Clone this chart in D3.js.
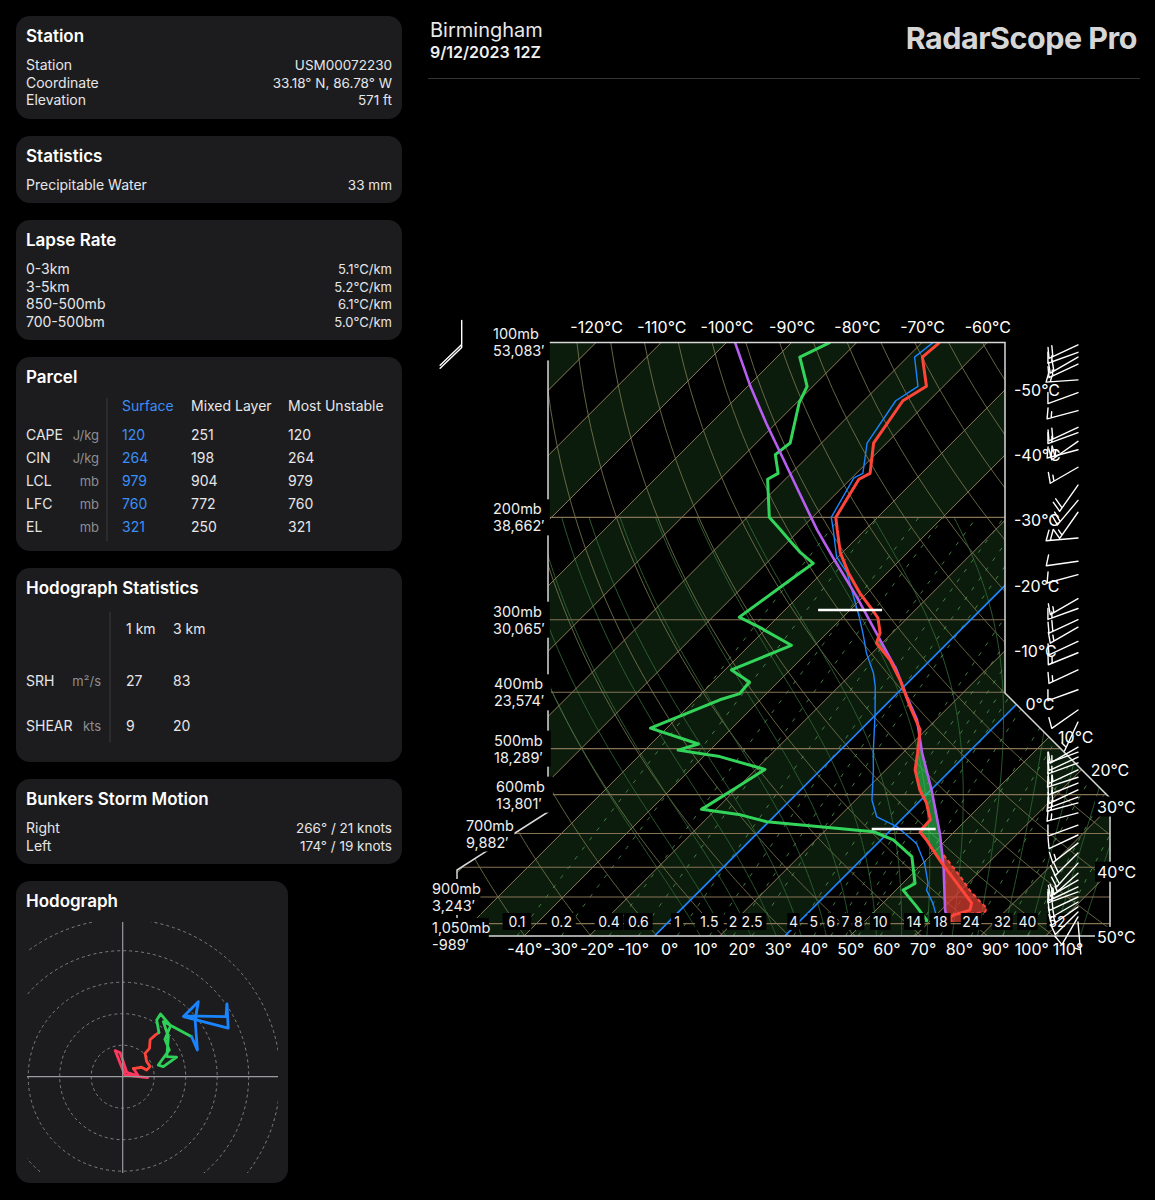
<!DOCTYPE html>
<html><head><meta charset="utf-8">
<script src="https://cdn.jsdelivr.net/npm/d3@7"></script>
<style>
body{margin:0;background:#000;}
svg{display:block;font-family:Inter,"Noto Sans",sans-serif;}
</style></head><body>
<svg id="c" width="1155" height="1200"></svg>
<script>
// ================= DATA =================
const temperature=[[100,-67.3],[106,-67.7],[119,-62.6],[126,-64.0],[149,-62.0],[168,-57.9],[172,-58.7],[200,-56.4],[210,-54.3],[230,-50.3],[249,-46.0],[270,-41.1],[289,-36.5],[298,-34.5],[316,-31.9],[329,-30.9],[352,-26.2],[381,-21.6],[424,-15.9],[464,-10.9],[509,-7.7],[544,-5.5],[589,-1.7],[620,1.3],[663,4.5],[685,4.6],[696,4.8],[718,7.0],[747,9.5],[787,12.9],[851,18.2],[922,23.6],[948,24.4],[967,22.6],[978,22.6],[994,23.4]];
const dewpoint=[[100,-84.1],[106,-86.5],[119,-80.9],[127,-79.6],[149,-74.8],[156,-75.3],[168,-72.0],[172,-72.7],[200,-66.6],[210,-63.0],[219,-60.0],[230,-56.4],[240,-52.8],[249,-53.4],[297,-55.9],[309,-51.3],[332,-43.6],[366,-49.0],[384,-44.4],[402,-44.1],[412,-46.2],[461,-52.5],[491,-42.7],[503,-44.9],[516,-37.5],[543,-28.6],[578,-30.0],[636,-32.2],[650,-25.4],[668,-20.3],[695,-2.4],[718,1.9],[767,7.3],[853,11.9],[876,11.1],[935,15.7],[986,19.3],[994,19.5]];
const wetbulb=[[100,-68.3],[106,-68.9],[119,-63.9],[126,-65.1],[149,-63.0],[168,-59.0],[171,-59.7],[200,-57.1],[210,-54.9],[234,-50.2],[249,-46.2],[297,-37.5],[317,-34.4],[343,-30.8],[371,-26.7],[391,-24.4],[435,-20.3],[509,-14.5],[544,-11.9],[613,-7.5],[655,-4.2],[681,0.4],[728,6.0],[788,10.3],[853,13.9],[876,14.7],[923,17.7],[973,20.3],[994,20.6]];
const parcel=[[100,-98.7],[119,-89.6],[138,-81.4],[159,-73.3],[182,-65.6],[210,-57.4],[234,-50.8],[274,-41.0],[317,-32.3],[366,-23.7],[407,-18.0],[446,-12.9],[509,-7.0],[589,0.1],[699,8.0],[798,13.7],[948,20.6],[994,22.9]];
const virtualTemp=[[762,11.9],[830,17.8],[876,21.3],[917,24.7],[941,26.7],[954,27.0],[962,25.2],[978,25.1],[994,26.0]];
const levelMarks=[[288.7,-40.0],[687.3,1.8]];
const highlightIsotherms=[0,-20];
const mixingRatios=[0.1,0.2,0.4,0.6,1,1.5,2,2.5,4,5,6,7,8,10,14,18,24,32,40,52];
const isobars=[200,300,400,500,600,700,800,900,1000];
const pressureLabels=[[100,"53,083′"],[200,"38,662′"],[300,"30,065′"],[400,"23,574′"],[500,"18,289′"],[600,"13,801′"],[700,"9,882′"],[900,"3,243′"],[1050,"-989′"]];
const topTicksC=[-120,-110,-100,-90,-80,-70,-60];
const bottomTicksF=[-40,-30,-20,-10,0,10,20,30,40,50,60,70,80,90,100,110];
const rightTicksC=[-50,-40,-30,-20,-10,0,10,20,30,40,50];
const windP=[101,104,106,109,116,122,131,140,143,148,153,164,176,187,196,217,238,251,276,287,300,309,327,342,366,396,429,450,497,507,517,529,544,560,573,589,606,620,645,677,704,727,756,787,819,842,865,882,900,918,936,955,974,994];
const windDir=[245,250,240,245,266,250,255,245,250,235,255,240,215,220,215,265,262,255,240,250,245,240,245,248,245,250,235,205,240,250,245,250,245,252,248,245,250,255,255,250,245,232,225,222,228,240,245,250,245,240,235,225,210,175];
const windSpd=[20,15,20,15,15,10,15,20,15,20,25,15,20,20,15,20,10,10,15,15,20,15,10,15,15,10,10,5,10,15,10,15,15,20,15,20,15,15,15,10,10,15,20,20,15,15,20,20,15,15,15,10,10,5];
const topWind=[100,180,20];
const hodoPink=[[7.9,-0.3],[0.7,0.5],[-2.4,8.3],[-0.8,7.6],[1.3,1.4],[5.0,0.2],[3.4,2.6]];
const hodoRed=[[3.4,2.6],[6.0,3.0],[7.6,2.1],[8.7,3.2],[7.6,4.8],[7.1,7.4],[8.5,9.0],[8.7,11.7],[10.3,13.2],[11.5,14.0]];
const hodoGreen=[[11.5,14.0],[10.8,18.0],[12.0,19.9],[15.2,16.2],[13.4,11.9],[14.8,8.5],[11.3,3.7],[12.9,3.2],[17.1,6.2],[14.0,6.4],[14.5,12.7],[12.9,17.5],[21.9,12.7]];
const hodoBlue=[[21.9,12.7],[23.7,8.5],[23.0,18.0],[24.0,23.8],[19.3,19.1],[33.5,15.4],[33.1,23.1],[32.8,19.1],[19.6,19.3]];
const hodoRings=[10,20,30,40,50];
const stationRows=[["Station","USM00072230"],["Coordinate","33.18° N, 86.78° W"],["Elevation","571 ft"]];
const statsRows=[["Precipitable Water","33 mm"]];
const lapseRows=[["0-3km","5.1°C/km"],["3-5km","5.2°C/km"],["850-500mb","6.1°C/km"],["700-500bm","5.0°C/km"]];
const parcelCols=["Surface","Mixed Layer","Most Unstable"];
const parcelRows=[["CAPE","J/kg",120,251,120],["CIN","J/kg",264,198,264],["LCL","mb",979,904,979],["LFC","mb",760,772,760],["EL","mb",321,250,321]];
const hodoStatCols=["1 km","3 km"];
const hodoStatRows=[["SRH","m²/s",27,83],["SHEAR","kts",9,20]];
const bunkersRows=[["Right","266° / 21 knots"],["Left","174° / 19 knots"]];

// ================= SETUP =================
const svg=d3.select('#c');
svg.append('rect').attr('width',1155).attr('height',1200).attr('fill','#000');
const TXT='#e6e6e8', GRAY='#8e8e93', BLUE='#3b8ef5';

// ---------- left panels ----------
function panel(x,y,w,h,title){
  svg.append('rect').attr('x',x).attr('y',y).attr('width',w).attr('height',h).attr('rx',14).attr('fill','#1c1c1e');
  svg.append('text').attr('x',x+10).attr('y',y+26).attr('fill','#fff').style('font-size','17px').style('font-weight',600).text(title);
}
function t(x,y,s,o={}){
  return svg.append('text').attr('x',x).attr('y',y).attr('fill',o.fill||TXT).attr('text-anchor',o.anchor||'start')
    .style('font-size',(o.size||14)+'px').style('font-weight',o.weight||400).text(s);
}
panel(16,16,386,103,'Station');
stationRows.forEach((r,i)=>{t(26,70+i*17.5,r[0]);t(392,70+i*17.5,r[1],{anchor:'end',size:13.5});});
panel(16,136,386,67,'Statistics');
statsRows.forEach((r,i)=>{t(26,190,r[0]);t(392,190,r[1],{anchor:'end',size:13.5});});
panel(16,220,386,120,'Lapse Rate');
lapseRows.forEach((r,i)=>{t(26,274+i*17.7,r[0]);t(392,274+i*17.7,r[1],{anchor:'end',size:13});});
panel(16,357,386,194,'Parcel');
svg.append('line').attr('x1',107).attr('x2',107).attr('y1',398).attr('y2',541).attr('stroke','#3a3a3c');
const pcx=[122,191,288];
parcelCols.forEach((c,i)=>t(pcx[i],411,c,{fill:i===0?BLUE:TXT}));
parcelRows.forEach((r,i)=>{const y=440+i*23;t(26,y,r[0]);t(99,y,r[1],{anchor:'end',fill:GRAY,size:13});
  [r[2],r[3],r[4]].forEach((v,j)=>t(pcx[j],y,v,{fill:j===0?BLUE:TXT}));});
panel(16,568,386,194,'Hodograph Statistics');
svg.append('line').attr('x1',110).attr('x2',110).attr('y1',612).attr('y2',742).attr('stroke','#3a3a3c');
const hcx=[126,173];
hodoStatCols.forEach((c,i)=>t(hcx[i],634,c));
hodoStatRows.forEach((r,i)=>{const y=686+i*45;t(26,y,r[0]);t(101,y,r[1],{anchor:'end',fill:GRAY,size:13});
  [r[2],r[3]].forEach((v,j)=>t(hcx[j],y,v));});
panel(16,779,386,85,'Bunkers Storm Motion');
bunkersRows.forEach((r,i)=>{t(26,833+i*18,r[0]);t(392,833+i*18,r[1],{anchor:'end',size:13.5});});
panel(16,881,272,302,'Hodograph');

// ---------- hodograph ----------
const hc=[122.7,1076.7], hk=3.15;
const hx=d3.scaleLinear().domain([0,10]).range([hc[0],hc[0]+10*hk]);
const hy=d3.scaleLinear().domain([0,10]).range([hc[1],hc[1]-10*hk]);
const defs=svg.append('defs');
defs.append('clipPath').attr('id','hodoClip').append('rect').attr('x',27).attr('y',922).attr('width',251).attr('height',251);
const gH=svg.append('g').attr('clip-path','url(#hodoClip)');
gH.selectAll('circle.ring').data(hodoRings).join('circle').attr('cx',hx(0)).attr('cy',hy(0)).attr('r',d=>hx(d)-hx(0))
  .attr('fill','none').attr('stroke','#7f7f82').attr('stroke-width',1).attr('stroke-dasharray','3,3');
svg.append('line').attr('x1',hx(0)).attr('x2',hx(0)).attr('y1',922).attr('y2',1173).attr('stroke','#9a9a9e').attr('stroke-width',1.2);
svg.append('line').attr('x1',27).attr('x2',278).attr('y1',hy(0)).attr('y2',hy(0)).attr('stroke','#9a9a9e').attr('stroke-width',1.2);
const hLine=d3.line().x(d=>hx(d[0])).y(d=>hy(d[1]));
[[hodoPink,'#ff375f'],[hodoRed,'#ff453a'],[hodoGreen,'#30d158'],[hodoBlue,'#1a84ff']].forEach(([d,c])=>{
  gH.append('path').attr('d',hLine(d)).attr('fill','none').attr('stroke',c).attr('stroke-width',2.8).attr('stroke-linejoin','round').attr('stroke-linecap','round');
});

// ---------- header ----------
t(430,37,'Birmingham',{size:20,fill:'#e8e8e8'});
t(430,58,'9/12/2023 12Z',{size:16,weight:600,fill:'#f0f0f0'});
svg.append('text').attr('x',1137).attr('y',49).attr('text-anchor','end').attr('fill','#d6d6d6')
  .style('font-size','30.5px').style('font-weight',700).style('letter-spacing','-0.5px').text('RadarScope Pro');
svg.append('line').attr('x1',428).attr('x2',1140).attr('y1',78.5).attr('y2',78.5).attr('stroke','#333336');

// ---------- skew-T ----------
const yP=d3.scaleLog().domain([100,1050]).range([342.4,935.9]);
const xSc=d3.scaleLinear().domain([0,10]).range([785,850.2]);
const yTop=yP(100), yBot=yP(1050);
const X=(T,p)=>xSc(T)+(yBot-yP(p));
const frame=[[548,yTop],[1005,yTop],[1005,693],[1110,798],[1110,yBot],[457,yBot],[457,870],[548,812]];
defs.append('clipPath').attr('id','plotClip').append('polygon').attr('points',frame.map(p=>p.join(',')).join(' '));
const gP=svg.append('g').attr('clip-path','url(#plotClip)');
gP.append('rect').attr('x',440).attr('y',330).attr('width',700).attr('height',620).attr('fill','#000');

// bands
const bandT=d3.range(-190,70,10).filter(T=>Math.abs(Math.floor(T/10))%2===1);
gP.selectAll('polygon.band').data(bandT).join('polygon')
  .attr('points',T=>[[X(T,100),yTop],[X(T+10,100),yTop],[X(T+10,1050),yBot],[X(T,1050),yBot]].map(p=>p.join(',')).join(' '))
  .attr('fill','#0b1c0c');

// dry adiabats
const skew=d3.line().x(d=>X(d[1],d[0])).y(d=>yP(d[0]));
const pLev=d3.range(1050,99,-10);
d3.range(200,470,10).forEach(th=>{
  const pts=pLev.map(p=>[p,th*Math.pow(p/1000,0.2857)-273.15]);
  gP.append('path').attr('d',skew(pts)).attr('fill','none').attr('stroke','#7d7a52').attr('stroke-width',0.9).attr('opacity',0.9);
});
// moist adiabats
function es(tc){return 6.112*Math.exp(17.67*tc/(tc+243.5));}
function moist(t0){
  const Rd=287.04,Cp=1005.7,Lv=2.501e6,eps=0.622;
  const f=(T,p)=>{const e=es(T-273.15);const rs=eps*e/(p-e);return (Rd*T+Lv*rs)/(p*(Cp+Lv*Lv*rs*eps/(Rd*T*T)));};
  const run=(step,lim)=>{let T=t0+273.15,p=1000;const out=[];
    while((step<0&&p>lim)||(step>0&&p<lim)){const k1=f(T,p);const k2=f(T+k1*step/2,p+step/2);T+=k2*step;p+=step;out.push([p,T-273.15]);}
    return out;};
  return run(2,1050).reverse().concat([[1000,t0]],run(-4,200));
}
d3.range(-16,48,4).forEach(t0=>{
  gP.append('path').attr('d',skew(moist(t0))).attr('fill','none').attr('stroke','#2f6434').attr('stroke-width',0.9);
});
// mixing ratio lines
function tdFromW(w,p){const e=w*p/(622+w);const l=Math.log(e/6.112);return 243.5*l/(17.67-l);}
mixingRatios.forEach(w=>{
  const pts=d3.range(1050,199,-10).map(p=>[p,tdFromW(w,p)]);
  gP.append('path').attr('d',skew(pts)).attr('fill','none').attr('stroke','#4f9150').attr('stroke-width',1).attr('stroke-dasharray','4,8').attr('opacity',0.85);
});
// isotherms
d3.range(-180,70,10).forEach(T=>{
  gP.append('line').attr('x1',X(T,1050)).attr('y1',yBot).attr('x2',X(T,100)).attr('y2',yTop).attr('stroke','#8c7c5a').attr('stroke-width',1);
});
// isobars
gP.selectAll('line.isobar').data(isobars).join('line').attr('x1',440).attr('x2',1120).attr('y1',d=>yP(d)).attr('y2',d=>yP(d))
  .attr('stroke','#857354').attr('stroke-width',1.1);
// highlighted isotherms
highlightIsotherms.forEach(T=>{
  gP.append('line').attr('x1',X(T,1050)).attr('y1',yBot).attr('x2',X(T,100)).attr('y2',yTop).attr('stroke','#1a84ff').attr('stroke-width',1.6);
});

// fills
const interp=prof=>d3.scaleLog().domain(prof.map(d=>d[0])).range(prof.map(d=>d[1]));
const fT=interp(temperature), fPar=interp(parcel), fTv=interp(virtualTemp);
const cinP=d3.range(994,761,-1);
gP.append('path').attr('d',d3.area().y(p=>yP(p)).x0(p=>X(fPar(p),p)).x1(p=>X(Math.max(fPar(p),fTv(p)),p))(cinP))
  .attr('fill','rgba(215,62,50,0.75)');
gP.append('path').attr('d',skew(virtualTemp)).attr('fill','none').attr('stroke','#ff453a').attr('stroke-width',2).attr('stroke-dasharray','4,3');
const capeP=d3.range(790,318,-1);
gP.append('path').attr('d',d3.area().y(p=>yP(p)).x0(p=>X(fT(p),p)).x1(p=>X(Math.max(fT(p),fPar(p)),p))(capeP))
  .attr('fill','rgba(48,209,88,0.6)');

// profiles
const prof=(d,c,w)=>gP.append('path').attr('d',skew(d)).attr('fill','none').attr('stroke',c).attr('stroke-width',w).attr('stroke-linejoin','round');
prof(wetbulb,'#1a84ff',1.4);
prof(dewpoint,'#33d45a',3);
prof(parcel,'#b75ef0',2.6);
prof(temperature,'#ff453a',3);
// level markers
levelMarks.forEach(([p,T])=>{
  svg.append('line').attr('x1',X(T,p)-32).attr('x2',X(T,p)+32).attr('y1',yP(p)).attr('y2',yP(p)).attr('stroke','#fff').attr('stroke-width',2.4);
});

// frame
svg.append('polygon').attr('points',frame.map(p=>p.join(',')).join(' ')).attr('fill','none').attr('stroke','#d8d8d8').attr('stroke-width',1.5);

// top axis (°C)
const xTop=d3.scaleLinear().domain([-120,-60]).range([X(-120,100),X(-60,100)]);
const gTop=svg.append('g').attr('transform','translate(0,333)')
  .call(d3.axisTop(xTop).tickValues(topTicksC).tickSize(0).tickPadding(0).tickFormat(d=>d+'°C'));
gTop.select('.domain').remove();
gTop.selectAll('text').attr('fill','#fff').style('font-size','16px').style('font-family','Inter');
// bottom axis (°F)
const xBotF=d3.scaleLinear().domain([32,50]).range([X(0,1050),X(10,1050)]);
const gBot=svg.append('g').attr('transform','translate(0,944)')
  .call(d3.axisBottom(xBotF).tickValues(bottomTicksF).tickSize(0).tickPadding(0).tickFormat(d=>d+'°'));
gBot.select('.domain').remove();
gBot.selectAll('text').attr('fill','#fff').style('font-size','16px').style('font-family','Inter');

// mixing ratio labels
mixingRatios.forEach(w=>{
  const x=X(tdFromW(w,1050),1050), y=922;
  const s=String(w);
  const tw=s.length*8.2+4;
  svg.append('rect').attr('x',x-tw/2).attr('y',y-9).attr('width',tw).attr('height',17).attr('fill','#000');
  svg.append('text').attr('x',x).attr('y',y+5).attr('text-anchor','middle').attr('fill','#f2f2f2').style('font-size','14px').text(s);
});

// right °C labels
const rightEdge=[[1005,yTop],[1005,693],[1110,798],[1110,yBot+2]];
rightTicksC.forEach(T=>{
  const c=xSc(T)+yBot;
  for(let i=0;i<rightEdge.length-1;i++){
    const [x1,y1]=rightEdge[i],[x2,y2]=rightEdge[i+1];
    const s1=x1+y1,s2=x2+y2;
    if((c-s1)*(c-s2)<=0&&s1!==s2){
      const k=(c-s1)/(s2-s1);const x=x1+k*(x2-x1),y=y1+k*(y2-y1);
      const lx=i===2?1097:x+9;
      const s=T+'°C';
      if(i===2) svg.append('rect').attr('x',lx-2).attr('y',y-10).attr('width',s.length*9.6+4).attr('height',20).attr('fill','#000');
      svg.append('text').attr('x',lx).attr('y',y+6).attr('fill','#fff').style('font-size','16px').text(s);
      break;
    }
  }
});

// pressure labels
const plabelX={100:493,200:493,300:493,400:494,500:494,600:496,700:466,900:432,1050:432};
pressureLabels.forEach(([p,ft])=>{
  const y=yP(p), x=plabelX[p];
  const mb=d3.format(',')(p)+'mb';
  const w=Math.max(mb.length,ft.length)*8.4;
  svg.append('rect').attr('x',x-2).attr('y',y-18).attr('width',w).attr('height',36).attr('fill','#000');
  svg.append('text').attr('x',x).attr('y',y-3).attr('fill','#f0f0f0').style('font-size','14.5px').text(mb);
  svg.append('text').attr('x',x).attr('y',y+14).attr('fill','#f0f0f0').style('font-size','14.5px').text(ft);
});

// wind barbs
function barb(x,y,dir,spd,o={}){
  const L=o.len||32,FL=o.fl||11,sp=o.sp||4.2,th=(o.th||110)*Math.PI/180;
  const r=dir*Math.PI/180,sx=Math.sin(r),sy=-Math.cos(r);
  const tx=x+sx*L,ty=y+sy*L;
  const fx=Math.cos(th)*sx-Math.sin(th)*sy,fy=Math.sin(th)*sx+Math.cos(th)*sy;
  let d=`M${x},${y}L${tx},${ty}`;
  const s=Math.round(spd/5)*5;const full=Math.floor(s/10),half=s%10>=5;
  let pos=0;
  for(let i=0;i<full;i++){d+=`M${tx-sx*pos},${ty-sy*pos}l${fx*FL},${fy*FL}`;pos+=sp;}
  if(half){if(full===0)pos=sp;d+=`M${tx-sx*pos},${ty-sy*pos}l${fx*FL*0.55},${fy*FL*0.55}`;}
  svg.append('path').attr('d',d).attr('fill','none').attr('stroke','#fff').attr('stroke-width',1.4).attr('stroke-linecap','round');
}
windP.forEach((p,i)=>barb(1078,yP(p),windDir[i],windSpd[i]));
barb(461.7,yP(topWind[0])-22,topWind[1],topWind[2],{len:27,fl:30,th:46,sp:3});
</script></body></html>
